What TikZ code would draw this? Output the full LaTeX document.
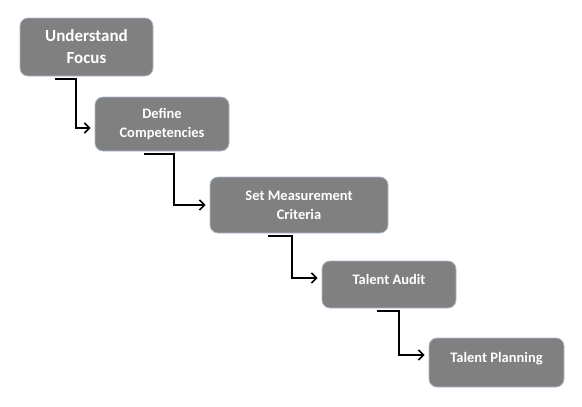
\documentclass[tikz,border=0pt]{standalone}
\usepackage{fontspec}
\setmainfont{Carlito}
\usetikzlibrary{arrows.meta, positioning, calc}

\definecolor{boxfill}{RGB}{128,128,128}
\definecolor{boxline}{RGB}{170,186,204}

\begin{document}
\begin{tikzpicture}[x=1pt, y=-1pt,
    stage/.style={draw=boxline, line width=0.8pt, fill=boxfill, rounded corners=8pt,
        text=white, font=\bfseries\fontsize{14.5}{19}\selectfont, align=center, inner sep=2pt},
    flow/.style={-{Straight Barb[length=5pt, width=10pt]}, line width=1.6pt, shorten >=4pt}]
    \useasboundingbox (0,0) rectangle (582,407);

    % Stages
    \node[stage, minimum width=133pt, minimum height=58pt, font=\bfseries\fontsize{17}{22}\selectfont]
        (focus) at (86.5, 47) {Understand\\Focus};
    \node[stage, minimum width=134pt, minimum height=54pt] (define) at (162, 124) {Define\\Competencies};
    \node[stage, minimum width=178pt, minimum height=56pt] (criteria) at (299, 205) {Set Measurement\\Criteria};
    \node[stage, minimum width=134pt, minimum height=47pt, text depth=11pt] (audit) at (389, 284.5) {Talent Audit};
    \node[stage, minimum width=135pt, minimum height=49pt, text depth=11pt] (planning) at (496.5, 362.5) {Talent Planning};

    % Connectors
    \coordinate (s1) at (55, 79);   \coordinate (k1) at (76, 79);   \coordinate (m1) at (76, 128);
    \coordinate (s2) at (144, 154); \coordinate (k2) at (174, 154); \coordinate (m2) at (174, 205);
    \coordinate (s3) at (268, 236); \coordinate (k3) at (292, 236); \coordinate (m3) at (292, 278);
    \coordinate (s4) at (377, 311); \coordinate (k4) at (399, 311); \coordinate (m4) at (399, 355);

    \draw[flow] (s1) -- (k1) -- (m1) -- (m1 -| define.west);
    \draw[flow] (s2) -- (k2) -- (m2) -- (m2 -| criteria.west);
    \draw[flow] (s3) -- (k3) -- (m3) -- (m3 -| audit.west);
    \draw[flow] (s4) -- (k4) -- (m4) -- (m4 -| planning.west);
\end{tikzpicture}
\end{document}
